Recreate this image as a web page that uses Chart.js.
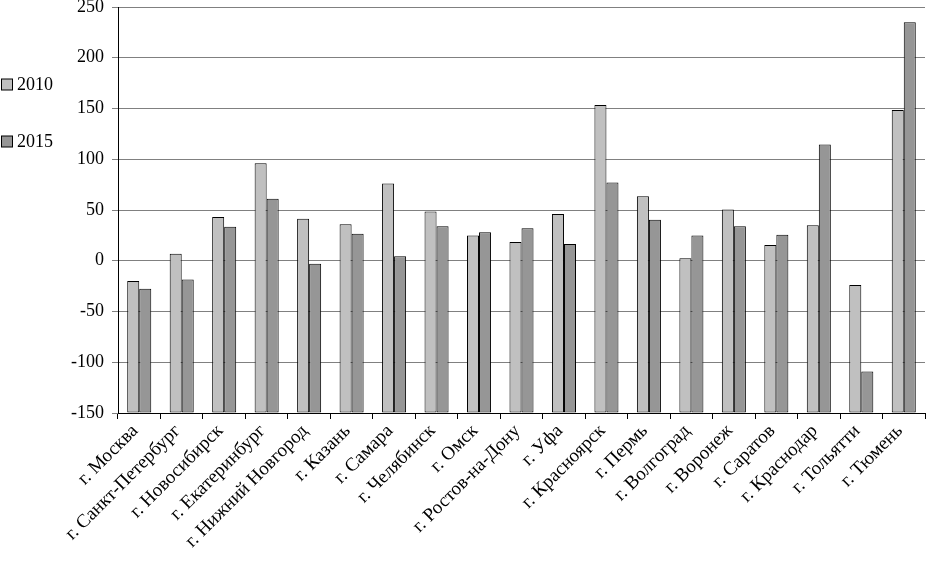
<!DOCTYPE html>
<html>
<head>
<meta charset="utf-8">
<script src="https://cdn.jsdelivr.net/npm/chart.js@4/dist/chart.umd.min.js"></script>
<style>
  html, body { margin: 0; padding: 0; background: #fff; }
  #wrap { width: 926px; height: 562px; position: relative; }
</style>
</head>
<body>
<div id="wrap"><canvas id="miGrafico"></canvas></div>
<script>
var cities = ['г. Москва', 'г. Санкт-Петербург', 'г. Новосибирск', 'г. Екатеринбург',
  'г. Нижний Новгород', 'г. Казань', 'г. Самара', 'г. Челябинск', 'г. Омск',
  'г. Ростов-на-Дону', 'г. Уфа', 'г. Красноярск', 'г. Пермь', 'г. Волгоград',
  'г. Воронеж', 'г. Саратов', 'г. Краснодар', 'г. Тольятти', 'г. Тюмень'];
var seriesNames = ['2010', '2015'];
var values2010 = [-20, 7, 43, 96, 41.5, 36, 76, 48.5, 25, 18.5, 46, 153.5, 63.5, 2.5, 50.5, 15.5, 35, -24, 148.5];
var values2015 = [-27.5, -18.5, 33.5, 61, -3, 26.5, 4.5, 34, 28, 32, 16.5, 77, 40.5, 25, 34, 25.5, 114.5, -109, 235];
var yMin = -150, yMax = 250, yStep = 50;

var serif = '"Liberation Serif", "Times New Roman", serif';
Chart.defaults.font.family = serif;
Chart.defaults.color = '#000';

// legend drawn at the left side, like the original
var sideLegend = {
  id: 'sideLegend',
  afterDraw: function (chart) {
    var ctx = chart.ctx;
    ctx.save();
    ctx.font = '18px ' + serif;
    ctx.textBaseline = 'middle';
    ctx.textAlign = 'left';
    chart.data.datasets.forEach(function (ds, i) {
      var y = 84.5 + i * 57;
      ctx.fillStyle = ds.backgroundColor;
      ctx.fillRect(1.5, y - 5.5, 11, 11);
      ctx.strokeStyle = '#000';
      ctx.lineWidth = 1;
      ctx.strokeRect(1.5, y - 5.5, 11, 11);
      ctx.fillStyle = '#000';
      ctx.fillText(ds.label, 17, y + 1);
    });
    ctx.restore();
  }
};

var ctx = document.getElementById('miGrafico').getContext('2d');

// bars grow from the bottom of the axis (-150), as in the Excel original
var data = {
  labels: cities,
  datasets: [{
    label: seriesNames[0],
    data: values2010,
    base: yMin,
    backgroundColor: '#c0c0c0',
    borderColor: '#000',
    borderWidth: 1,
    borderSkipped: false
  }, {
    label: seriesNames[1],
    data: values2015,
    base: yMin,
    backgroundColor: '#969696',
    borderColor: '#000',
    borderWidth: 1,
    borderSkipped: false
  }]
};

var options = {
  responsive: true,
  maintainAspectRatio: false,
  animation: false,
  layout: { padding: { left: 60, right: 1, top: 7, bottom: 0 } },
  datasets: { bar: { categoryPercentage: 0.566, barPercentage: 1.0 } },
  plugins: {
    legend: { display: false },
    tooltip: { enabled: false }
  },
  scales: {
    x: {
      offset: true,
      grid: { offset: true, drawOnChartArea: false, drawTicks: true, tickLength: 6, color: '#000' },
      border: { color: '#000' },
      ticks: { minRotation: 45, maxRotation: 45, autoSkip: false, padding: 1, labelOffset: -4, font: { size: 19 } },
      afterFit: function (scale) { scale.height = 149; }
    },
    y: {
      min: yMin,
      max: yMax,
      ticks: { stepSize: yStep, padding: 8, font: { size: 18 } },
      grid: { color: '#808080', tickLength: 6 },
      border: { color: '#000' },
      afterFit: function (scale) {
        scale.width = 58;
        scale.paddingTop = 0;
        scale.paddingBottom = 0;
      }
    }
  }
};

var miGrafico = new Chart(ctx, {
  type: 'bar',
  data: data,
  options: options,
  plugins: [sideLegend]
});
</script>
</body>
</html>
